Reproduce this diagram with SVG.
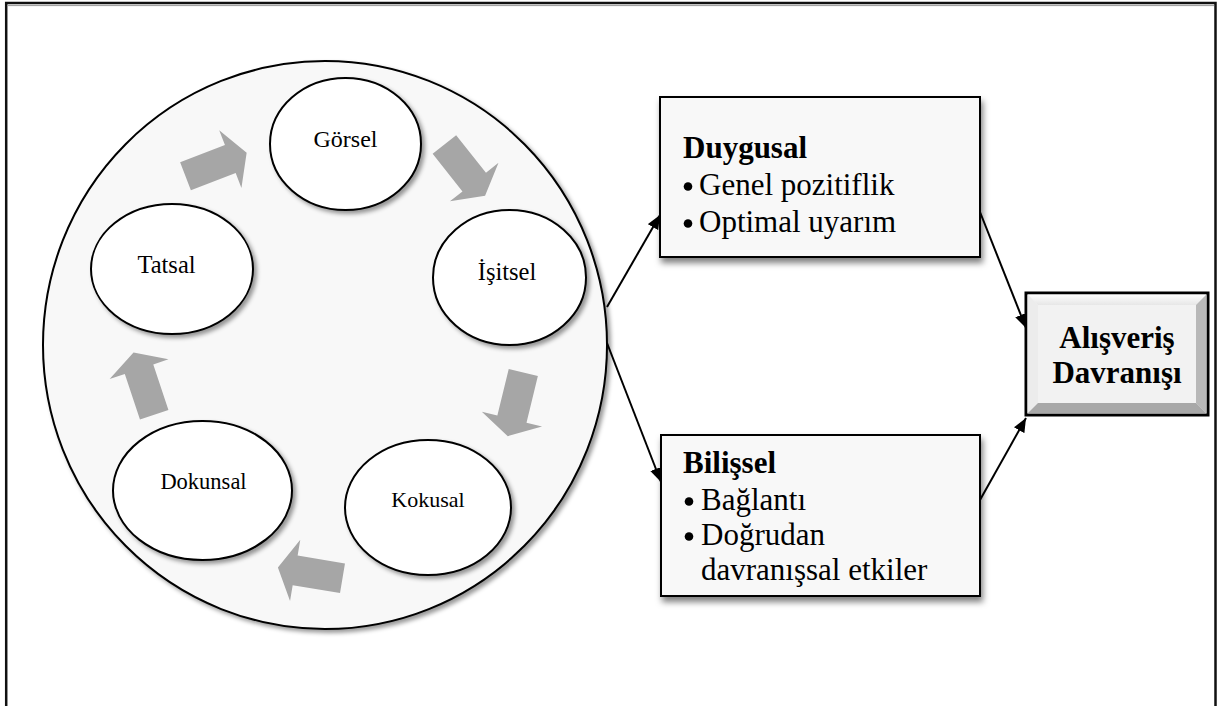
<svg xmlns="http://www.w3.org/2000/svg" xmlns:xlink="http://www.w3.org/1999/xlink" width="1219" height="706" viewBox="0 0 1219 706">
<defs>
  <filter id="sh" x="-20%" y="-20%" width="150%" height="150%">
    <feDropShadow dx="3" dy="3" stdDeviation="2" flood-color="#000" flood-opacity="0.4"/>
  </filter>
  <filter id="shb" x="-10%" y="-20%" width="130%" height="150%">
    <feDropShadow dx="2" dy="5" stdDeviation="3" flood-color="#000" flood-opacity="0.5"/>
  </filter>
  <marker id="ah" markerUnits="userSpaceOnUse" markerWidth="15" markerHeight="12" refX="14" refY="6" orient="auto">
    <path d="M0,0 L14,6 L0,12 z" fill="#000"/>
  </marker>
  <polygon id="ba" points="0,-15 48,-15 48,-31 65.5,0 48,31 48,15 0,15"/>
  <linearGradient id="bevT" x1="0" y1="0" x2="0" y2="1">
    <stop offset="0" stop-color="#ffffff"/><stop offset="1" stop-color="#e6e6e6"/>
  </linearGradient>
</defs>
<style>
  .ell{fill:#fff;stroke:#000;stroke-width:2;filter:url(#sh)}
  .lbl{font-family:"Liberation Serif","Times New Roman",serif;fill:#000;text-anchor:middle}
  .box{fill:#f8f8f8;stroke:#000;stroke-width:2;filter:url(#shb)}
  .txt{font-family:"Liberation Serif","Times New Roman",serif;fill:#000;font-size:31px}
  .ttl{font-weight:bold}
  .bar{fill:#a6a6a6}
  .con{stroke:#000;stroke-width:2;fill:none;marker-end:url(#ah)}
</style>

<rect x="6.2" y="3" width="1209.3" height="720" fill="#fff" stroke="#111" stroke-width="2.5"/>
<line x1="7.5" y1="5.6" x2="1214" y2="5.6" stroke="#999" stroke-width="1"/>

<g id="senses">
  <ellipse cx="325" cy="345" rx="282" ry="284" fill="#f8f8f8" stroke="#000" stroke-width="2" filter="url(#sh)"/>
</g>

<g id="node-gorsel">
  <ellipse class="ell" cx="345.5" cy="144" rx="75.5" ry="66"/>
  <text class="lbl" x="345.5" y="147" font-size="24">Görsel</text>
</g>
<g id="node-isitsel">
  <ellipse class="ell" cx="509.5" cy="277.5" rx="76.5" ry="67.5"/>
  <text class="lbl" x="507" y="280" font-size="24.5">İşitsel</text>
</g>
<g id="node-kokusal">
  <ellipse class="ell" cx="428" cy="507.5" rx="83" ry="67.5"/>
  <text class="lbl" x="428" y="507" font-size="22">Kokusal</text>
</g>
<g id="node-dokunsal">
  <ellipse class="ell" cx="202.5" cy="490.5" rx="89.5" ry="69.5"/>
  <text class="lbl" x="203.5" y="489" font-size="22.5">Dokunsal</text>
</g>
<g id="node-tatsal">
  <ellipse class="ell" cx="172" cy="269" rx="81" ry="65"/>
  <text class="lbl" x="166.5" y="273" font-size="24.5">Tatsal</text>
</g>

<g id="node-duygusal">
  <rect class="box" x="660" y="97" width="320" height="160"/>
  <text class="txt ttl" x="683" y="158">Duygusal</text>
  <circle cx="688" cy="186.5" r="4.3"/>
  <text class="txt" x="699" y="195">Genel pozitiflik</text>
  <circle cx="688" cy="223.5" r="4.3"/>
  <text class="txt" x="699" y="232">Optimal uyarım</text>
</g>

<g id="node-bilissel">
  <rect class="box" x="661" y="435" width="319" height="161"/>
  <text class="txt ttl" x="683" y="473">Bilişsel</text>
  <circle cx="689" cy="501.5" r="4.3"/>
  <text class="txt" x="701" y="510">Bağlantı</text>
  <circle cx="689" cy="536.5" r="4.3"/>
  <text class="txt" x="701" y="545">Doğrudan</text>
  <text class="txt" x="701" y="580">davranışsal etkiler</text>
</g>

<g id="node-alisveris">
  <rect x="1026" y="293" width="182" height="122" fill="#f2f2f2" stroke="#000" stroke-width="3"/>
  <polygon points="1027.5,294.5 1206.5,294.5 1196,305 1038,305" fill="url(#bevT)"/>
  <polygon points="1027.5,294.5 1038,305 1038,403 1027.5,413.5" fill="#ececec"/>
  <polygon points="1206.5,294.5 1206.5,413.5 1196,403 1196,305" fill="#b8b8b8"/>
  <polygon points="1027.5,413.5 1038,403 1196,403 1206.5,413.5" fill="#a8a8a8"/>
  <text class="txt ttl" x="1117" y="348" text-anchor="middle">Alışveriş</text>
  <text class="txt ttl" x="1117" y="383" text-anchor="middle">Davranışı</text>
</g>

<g id="connectors">
  <use xlink:href="#ba" href="#ba" class="bar" transform="translate(185.5,176.3) rotate(-21)"/>
  <use xlink:href="#ba" href="#ba" class="bar" transform="translate(444.4,144.5) rotate(51.6)"/>
  <use xlink:href="#ba" href="#ba" class="bar" transform="translate(523.3,372.5) rotate(103.7)"/>
  <use xlink:href="#ba" href="#ba" class="bar" transform="translate(342.5,578.3) rotate(189.5)"/>
  <use xlink:href="#ba" href="#ba" class="bar" transform="translate(154.2,414.7) rotate(251.6)"/>
  <line class="con" x1="607" y1="307" x2="660" y2="215"/>
  <line class="con" x1="607" y1="343" x2="661" y2="482"/>
  <line class="con" x1="980" y1="212" x2="1026" y2="328"/>
  <line class="con" x1="980" y1="500" x2="1026" y2="418"/>
</g>
</svg>
